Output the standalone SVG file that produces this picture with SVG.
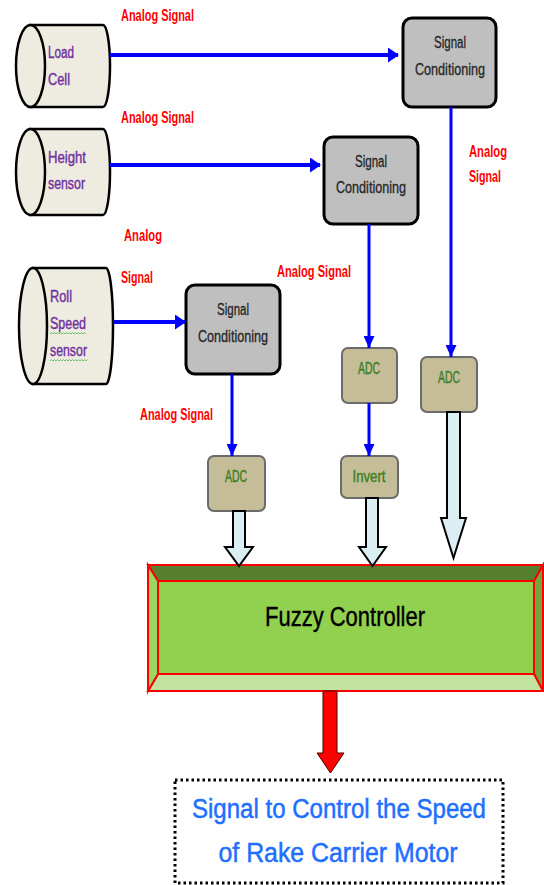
<svg xmlns="http://www.w3.org/2000/svg" width="544" height="885" viewBox="0 0 544 885">
<style>
.cyl{fill:#EEECE1;stroke:#000;stroke-width:2.5}
.sen{font-family:"Liberation Sans",Arial,sans-serif;font-size:16px;fill:#7030A0;stroke:#7030A0;stroke-width:0.4}
.sc{fill:#BFBFBF;stroke:#000;stroke-width:3}
.sct{font-family:"Liberation Sans",Arial,sans-serif;font-size:16px;fill:#262626;stroke:#262626;stroke-width:0.3;text-anchor:middle}
.adc{fill:#C4BD97;stroke:#6B6B6B;stroke-width:2}
.adct{font-family:"Liberation Sans",Arial,sans-serif;font-size:16px;fill:#3A7D22;stroke:#3A7D22;stroke-width:0.35;text-anchor:middle}
.lab{font-family:"Liberation Sans",Arial,sans-serif;font-size:16px;font-weight:bold;fill:#FF0000}
.bl{stroke:#0000FF;fill:none}
.blk{fill:#DBEEF4;stroke:#000;stroke-width:2;stroke-linejoin:miter}
.bev{stroke:#FF0000;stroke-width:2;stroke-linejoin:miter}
.out{font-family:"Liberation Sans",Arial,sans-serif;font-size:27px;fill:#1F6FFF;stroke:#1F6FFF;stroke-width:0.5;text-anchor:middle}
</style>
<defs>
<marker id="ah" markerUnits="userSpaceOnUse" markerWidth="11" markerHeight="15" refX="10" refY="7.5" orient="auto">
<path d="M0,0 L11,7.5 L0,15 z" fill="#0000FF"/>
</marker>
<marker id="av" markerUnits="userSpaceOnUse" markerWidth="12" markerHeight="11" refX="12" refY="5.5" orient="auto">
<path d="M0,0 L12,5.5 L0,11 z" fill="#0000FF"/>
</marker>
</defs>
<rect width="544" height="885" fill="#FFFFFF"/>

<g id="load-cell">
<path class="cyl" d="M30,25 H103 A7 41 0 0 1 103,107 H30 Z"/>
<ellipse class="cyl" cx="30.5" cy="66" rx="14.5" ry="41"/>
<text class="sen" x="48" y="58" textLength="26" lengthAdjust="spacingAndGlyphs">Load</text>
<text class="sen" x="48" y="85" textLength="22" lengthAdjust="spacingAndGlyphs">Cell</text>
</g>

<g id="height-sensor">
<path class="cyl" d="M30,129 H103 A7 43 0 0 1 103,215 H30 Z"/>
<ellipse class="cyl" cx="30.5" cy="172" rx="14.5" ry="43"/>
<text class="sen" x="48" y="163" textLength="38" lengthAdjust="spacingAndGlyphs">Height</text>
<text class="sen" x="48" y="189" textLength="37" lengthAdjust="spacingAndGlyphs">sensor</text>
</g>

<g id="roll-speed-sensor">
<path class="cyl" d="M33,268 H106 A7 58 0 0 1 106,384 H33 Z"/>
<ellipse class="cyl" cx="33" cy="326" rx="14" ry="58"/>
<text class="sen" x="50" y="302" textLength="22" lengthAdjust="spacingAndGlyphs">Roll</text>
<text class="sen" x="50" y="329" textLength="36" lengthAdjust="spacingAndGlyphs">Speed</text>
<text class="sen" x="50" y="356" textLength="37" lengthAdjust="spacingAndGlyphs">sensor</text>
<path d="M50,334 l1.5,-1.5 l1.5,1.5 l1.5,-1.5 l1.5,1.5 l1.5,-1.5 l1.5,1.5 l1.5,-1.5 l1.5,1.5 l1.5,-1.5 l1.5,1.5 l1.5,-1.5 l1.5,1.5 l1.5,-1.5 l1.5,1.5 l1.5,-1.5 l1.5,1.5 l1.5,-1.5 l1.5,1.5 l1.5,-1.5 l1.5,1.5 l1.5,-1.5 l1.5,1.5 l1.5,-1.5 l1.5,1.5" fill="none" stroke="#5CB85C" stroke-width="0.9"/>
<path d="M50,361 l1.5,-1.5 l1.5,1.5 l1.5,-1.5 l1.5,1.5 l1.5,-1.5 l1.5,1.5 l1.5,-1.5 l1.5,1.5 l1.5,-1.5 l1.5,1.5 l1.5,-1.5 l1.5,1.5 l1.5,-1.5 l1.5,1.5 l1.5,-1.5 l1.5,1.5 l1.5,-1.5 l1.5,1.5 l1.5,-1.5 l1.5,1.5 l1.5,-1.5 l1.5,1.5 l1.5,-1.5 l1.5,1.5 l1.5,-1.5" fill="none" stroke="#5CB85C" stroke-width="0.9"/>
</g>

<g id="signal-conditioning-1">
<rect class="sc" x="403" y="18" width="93" height="89" rx="9"/>
<text class="sct" x="450" y="48" textLength="32" lengthAdjust="spacingAndGlyphs">Signal</text>
<text class="sct" x="450" y="75" textLength="70" lengthAdjust="spacingAndGlyphs">Conditioning</text>
</g>

<g id="signal-conditioning-2">
<rect class="sc" x="324" y="137" width="94" height="87" rx="9"/>
<text class="sct" x="371" y="167" textLength="32" lengthAdjust="spacingAndGlyphs">Signal</text>
<text class="sct" x="371" y="193" textLength="70" lengthAdjust="spacingAndGlyphs">Conditioning</text>
</g>

<g id="signal-conditioning-3">
<rect class="sc" x="186" y="285" width="94" height="89" rx="9"/>
<text class="sct" x="233" y="315" textLength="32" lengthAdjust="spacingAndGlyphs">Signal</text>
<text class="sct" x="233" y="342" textLength="70" lengthAdjust="spacingAndGlyphs">Conditioning</text>
</g>

<g id="adc-1">
<rect class="adc" x="208" y="456" width="57" height="55" rx="6"/>
<text class="adct" x="236" y="482" textLength="22" lengthAdjust="spacingAndGlyphs">ADC</text>
</g>
<g id="adc-2">
<rect class="adc" x="342" y="348" width="55" height="55" rx="6"/>
<text class="adct" x="369" y="374" textLength="22" lengthAdjust="spacingAndGlyphs">ADC</text>
</g>
<g id="adc-3">
<rect class="adc" x="421" y="357" width="56" height="55" rx="6"/>
<text class="adct" x="449" y="383" textLength="22" lengthAdjust="spacingAndGlyphs">ADC</text>
</g>
<g id="invert">
<rect class="adc" x="341" y="456" width="57" height="42" rx="6"/>
<text class="adct" x="369" y="482" textLength="33" lengthAdjust="spacingAndGlyphs">Invert</text>
</g>

<g id="fuzzy-controller">
<polygon class="bev" points="148,565 543,565 534,581 158,581" fill="#56802F"/>
<polygon class="bev" points="543,565 543,691 534,674 534,581" fill="#76A53B"/>
<polygon class="bev" points="148,691 543,691 534,674 158,674" fill="#C3E3A0"/>
<polygon class="bev" points="148,565 158,581 158,674 148,691" fill="#9DD562"/>
<rect class="bev" x="158" y="581" width="376" height="93" fill="#92D050"/>
<text x="345" y="626" font-family="'Liberation Sans',Arial,sans-serif" font-size="27" fill="#000" stroke="#000" stroke-width="0.4" text-anchor="middle" textLength="160" lengthAdjust="spacingAndGlyphs">Fuzzy Controller</text>
</g>

<g id="output">
<rect x="175" y="780" width="328" height="103" fill="none" stroke="#000" stroke-width="3" stroke-dasharray="2.5 3"/>
<text class="out" x="339" y="818" textLength="294" lengthAdjust="spacingAndGlyphs">Signal to Control the Speed</text>
<text class="out" x="338" y="862" textLength="239" lengthAdjust="spacingAndGlyphs">of Rake Carrier Motor</text>
</g>

<g id="connectors">
<line class="bl" x1="110" y1="55" x2="398" y2="55" stroke-width="4" marker-end="url(#ah)"/>
<line class="bl" x1="110" y1="165" x2="320" y2="165" stroke-width="4" marker-end="url(#ah)"/>
<line class="bl" x1="113" y1="322" x2="185" y2="322" stroke-width="4" marker-end="url(#ah)"/>
<line class="bl" x1="451" y1="107" x2="451" y2="357" stroke-width="3" marker-end="url(#av)"/>
<line class="bl" x1="369" y1="224" x2="369" y2="348" stroke-width="3" marker-end="url(#av)"/>
<line class="bl" x1="232" y1="374" x2="232" y2="456" stroke-width="3" marker-end="url(#av)"/>
<line class="bl" x1="369" y1="403" x2="369" y2="456" stroke-width="3" marker-end="url(#av)"/>
<polygon class="blk" points="233,511 245,511 245,547 253,547 239,566 225,547 233,547"/>
<polygon class="blk" points="366,498 378,498 378,547 386,547 372.5,566 359,547 366,547"/>
<polygon class="blk" points="447,412 460,412 460,518 466,518 453.5,558 441,518 447,518"/>
<polygon points="323,691 337,691 337,753 344,753 330.5,773 317,753 323,753" fill="#FF0000" stroke="#4A0000" stroke-width="1"/>
</g>

<g id="labels">
<text class="lab" x="121" y="21" textLength="73" lengthAdjust="spacingAndGlyphs">Analog Signal</text>
<text class="lab" x="121" y="123" textLength="73" lengthAdjust="spacingAndGlyphs">Analog Signal</text>
<text class="lab" x="124" y="241" textLength="38" lengthAdjust="spacingAndGlyphs">Analog</text>
<text class="lab" x="121" y="283" textLength="32" lengthAdjust="spacingAndGlyphs">Signal</text>
<text class="lab" x="277" y="277" textLength="74" lengthAdjust="spacingAndGlyphs">Analog Signal</text>
<text class="lab" x="469" y="157" textLength="38" lengthAdjust="spacingAndGlyphs">Analog</text>
<text class="lab" x="469" y="182" textLength="32" lengthAdjust="spacingAndGlyphs">Signal</text>
<text class="lab" x="140" y="420" textLength="73" lengthAdjust="spacingAndGlyphs">Analog Signal</text>
</g>
</svg>
